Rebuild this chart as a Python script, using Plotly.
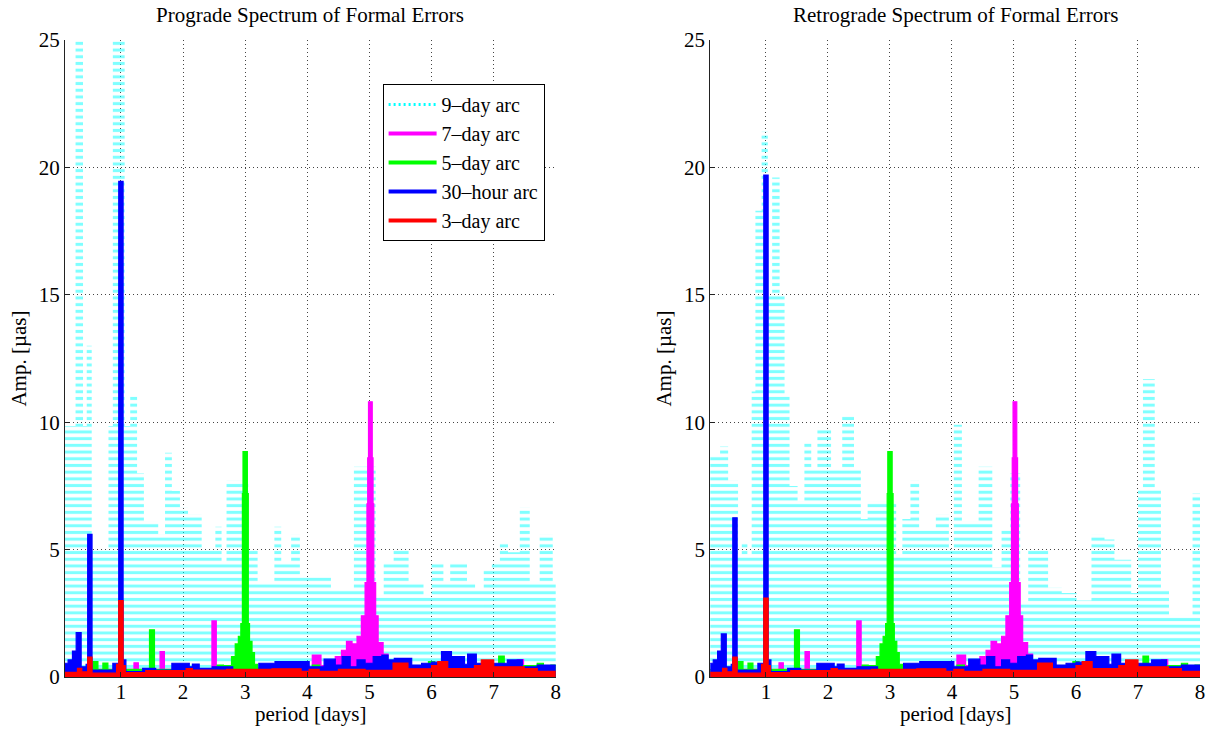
import plotly.graph_objects as go

# ---------------- data (period in days, amplitude in micro-arcsec) ----------------
# Shared low-level spectra (step segments: edges, amplitudes)
red_edges = [0.1, 0.3, 0.37, 0.465, 0.535, 0.93, 0.965, 1.035, 1.07, 1.4, 2.05, 2.15, 2.7, 3.43,
             3.9, 4.03, 4.19, 4.5, 4.93, 5.38, 5.62, 6.0, 6.1, 6.26, 6.69, 6.8, 7.0, 7.49, 7.7, 8.0]
red_pro = [0.18, 0.34, 0.2, 0.78, 0.15, 0.5, 3.0, 0.45, 0.17, 0.25, 0.33, 0.27, 0.3,
           0.32, 0.22, 0.3, 0.22, 0.3, 0.26, 0.55, 0.32, 0.45, 0.6, 0.33, 0.45, 0.67, 0.4, 0.33, 0.22]
red_retro = [0.18, 0.34, 0.2, 0.78, 0.15, 0.5, 3.1, 0.45, 0.17, 0.25, 0.33, 0.27, 0.3,
             0.32, 0.22, 0.3, 0.22, 0.3, 0.26, 0.55, 0.32, 0.45, 0.6, 0.33, 0.45, 0.67, 0.4, 0.33, 0.22]

blue_edges = [0.1, 0.15, 0.22, 0.28, 0.36, 0.44, 0.465, 0.535, 0.87, 0.965, 1.035, 1.08, 1.35, 1.56,
              1.82, 2.1, 2.15, 2.26, 2.47, 2.8, 3.22, 3.48, 4.03, 4.27, 4.45, 4.56, 4.69, 4.8, 4.93,
              5.06, 5.2, 5.3, 5.4, 5.68, 5.84, 6.0, 6.16, 6.32, 6.53, 6.58, 6.72, 7.22, 7.46, 7.7, 8.0]
blue_pro = [0.54, 0.67, 1.02, 1.74, 0.4, 0.5, 5.6, 0.27, 0.54, 19.45, 0.67, 0.21, 0.34,
            0.27, 0.54, 0.4, 0.51, 0.34, 0.4, 0.27, 0.54, 0.6, 0.4, 0.7, 0.47, 0.8, 0.4, 0.67,
            0.54, 0.8, 0.86, 0.67, 0.73, 0.47, 0.54, 0.58, 1.0, 0.8, 0.5, 0.9, 0.54, 0.67, 0.4, 0.47]
blue_retro = [0.54, 0.67, 1.02, 1.69, 0.4, 0.5, 6.25, 0.27, 0.54, 19.7, 0.67, 0.21, 0.34,
              0.27, 0.54, 0.4, 0.51, 0.34, 0.4, 0.27, 0.54, 0.6, 0.4, 0.7, 0.47, 0.8, 0.4, 0.67,
              0.54, 0.8, 0.86, 0.67, 0.73, 0.47, 0.54, 0.58, 1.0, 0.8, 0.5, 0.9, 0.54, 0.67, 0.4, 0.47]

green_edges = [0.1, 0.55, 0.63, 0.71, 0.79, 1.46, 1.54, 2.55, 2.65, 2.78, 2.84, 2.89, 2.93, 2.955,
               2.965, 3.035, 3.05, 3.07, 3.11, 3.15, 3.2, 4.08, 4.2, 5.95, 6.05, 6.12, 6.18, 6.85,
               6.95, 7.08, 7.17, 7.7, 7.8, 7.92, 8.0]
green_amp = [0.3, 0.6, 0.3, 0.55, 0.3, 1.85, 0.3, 0.47, 0.45, 0.8, 1.3, 1.6, 2.1, 7.2,
             8.85, 7.2, 2.1, 1.4, 0.96, 0.5, 0.35, 0.47, 0.35, 0.6, 0.4, 0.6, 0.4, 0.6,
             0.45, 0.82, 0.45, 0.54, 0.4, 0.47]

magenta_edges = [0.1, 1.21, 1.28, 1.63, 1.7, 2.465, 2.535, 4.08, 4.22, 4.45, 4.55, 4.63, 4.72, 4.8,
                 4.87, 4.93, 4.96, 4.972, 4.985, 5.045, 5.058, 5.07, 5.1, 5.14, 5.22, 5.3, 7.38,
                 7.48, 8.0]
magenta_amp = [0.3, 0.56, 0.3, 1.0, 0.3, 2.2, 0.35, 0.86, 0.45, 0.8, 1.05, 1.4, 1.3, 1.6,
               2.4, 3.7, 6.8, 8.6, 10.8, 8.6, 6.8, 3.7, 2.4, 1.35, 0.9, 0.4, 0.68, 0.4]

# 9-day arc envelopes (differ between the two panels)
cyan_pro_edges = [0.1, 0.27, 0.39, 0.45, 0.53, 0.8, 0.87, 1.06, 1.15, 1.26, 1.37, 1.6, 1.71, 1.82,
                  1.95, 2.08, 2.3, 2.52, 2.62, 2.7, 3.05, 3.2, 3.47, 3.58, 3.74, 3.88, 4.38, 4.75,
                  5.1, 5.23, 5.39, 5.63, 5.87, 6.0, 6.19, 6.3, 6.57, 6.7, 6.84, 6.97, 7.1, 7.23,
                  7.42, 7.58, 7.74, 7.95, 8.0]
cyan_pro = [9.85, 26, 9.85, 13.0, 5.0, 9.85, 26, 9.85, 11.1, 8.0, 6.1, 5.6, 8.8,
            7.3, 6.65, 6.4, 5.0, 5.9, 4.5, 7.7, 5.0, 3.7, 5.9, 4.5, 5.6, 4.0, 3.45,
            8.25, 3.2, 4.5, 5.05, 3.7, 3.2, 4.5, 3.7, 4.5, 3.7, 3.45, 4.2, 4.5, 5.3,
            4.9, 6.65, 3.7, 5.6, 3.7]

cyan_retro_edges = [0.1, 0.26, 0.39, 0.55, 0.61, 0.7, 0.77, 0.83, 0.93, 1.03, 1.1, 1.22, 1.3, 1.38,
                    1.51, 1.62, 1.73, 1.83, 2.05, 2.23, 2.42, 2.53, 2.64, 3.1, 3.2, 3.33, 3.47,
                    3.74, 3.95, 4.03, 4.16, 4.43, 4.65, 4.8, 4.94, 5.1, 5.23, 5.55, 5.77, 6.01,
                    6.25, 6.46, 6.62, 6.89, 7.0, 7.08, 7.27, 7.37, 7.5, 7.88, 8.0]
cyan_retro = [8.7, 9.05, 7.7, 4.8, 5.25, 4.8, 11.2, 18.3, 21.4, 15.0, 19.6, 15.0, 11.1,
              7.5, 6.9, 9.2, 8.2, 9.8, 8.2, 10.3, 8.2, 6.2, 6.9, 4.8, 6.2, 7.7,
              5.8, 6.4, 5.0, 9.9, 6.1, 8.25, 4.3, 5.8, 8.0, 2.9, 5.0, 3.5, 3.3,
              3.0, 5.6, 5.4, 4.6, 3.3, 7.4, 11.7, 7.4, 3.45, 2.4, 7.2]

series_names = ["9\u2013day arc", "7\u2013day arc", "5\u2013day arc", "30\u2013hour arc", "3\u2013day arc"]
series_colors = ["#00FFFF", "#FF00FF", "#00FF00", "#0000FF", "#FF0000"]
titles = ["Prograde Spectrum of Formal Errors", "Retrograde Spectrum of Formal Errors"]
x_label = "period [days]"
y_label = "Amp. [\u00b5as]"
x_ticks = [1, 2, 3, 4, 5, 6, 7, 8]
y_ticks = [0, 5, 10, 15, 20, 25]

FONT = "Liberation Serif, Times New Roman, serif"
FS = 21

panels = [
    dict(cyan=(cyan_pro_edges, cyan_pro), mag=(magenta_edges, magenta_amp),
         grn=(green_edges, green_amp), blu=(blue_edges, blue_pro), red=(red_edges, red_pro)),
    dict(cyan=(cyan_retro_edges, cyan_retro), mag=(magenta_edges, magenta_amp),
         grn=(green_edges, green_amp), blu=(blue_edges, blue_retro), red=(red_edges, red_retro)),
]

fig = go.Figure()


def step(edges, amps):
    return list(edges), list(amps) + [amps[-1]]


for i, p in enumerate(panels):
    xa = "x" if i == 0 else "x2"
    ya = "y" if i == 0 else "y2"
    ex, ey = step(*p["cyan"])
    fig.add_trace(go.Scatter(
        x=ex, y=ey, xaxis=xa, yaxis=ya, mode="lines", line=dict(width=0, shape="hv"),
        fill="tozeroy", fillcolor="rgba(0,0,0,0)",
        fillpattern=dict(shape="-", fgcolor=series_colors[0], bgcolor="rgba(0,0,0,0)",
                         size=6.7, solidity=0.45),
        showlegend=False, hoverinfo="skip"))
    for key, col in zip(["mag", "grn", "blu", "red"], series_colors[1:]):
        sx, sy = step(*p[key])
        fig.add_trace(go.Scatter(
            x=sx, y=sy, xaxis=xa, yaxis=ya, mode="lines",
            line=dict(width=1.2, color=col, shape="hv"),
            fill="tozeroy", fillcolor=col, showlegend=False, hoverinfo="skip"))

# legend entries
for k, (name, col) in enumerate(zip(series_names, series_colors)):
    fig.add_trace(go.Scatter(
        x=[None], y=[None], mode="lines", name=name, legendgroup=str(k),
        line=dict(color=col, width=4 if k else 3, dash="2px,3px" if k == 0 else "solid")))

axis_common = dict(
    showgrid=True, gridcolor="#444", griddash="1px,3px", gridwidth=1,
    showline=True, linecolor="#222", linewidth=1, mirror=False,
    ticks="inside", ticklen=5, tickcolor="#222", zeroline=False,
    tickfont=dict(family=FONT, size=FS, color="black"),
)

W, H = 1212, 729
ml, mr, mt, mb = 65, 7, 40, 52
pw = W - ml - mr
ph = H - mt - mb
d1 = [0, (558 - ml) / pw]
d2 = [(713 - ml) / pw, 1]

fig.update_layout(
    width=W, height=H,
    margin=dict(l=ml, r=mr, t=mt, b=mb),
    paper_bgcolor="white", plot_bgcolor="white",
    font=dict(family=FONT, size=FS, color="black"),
    xaxis=dict(domain=d1, range=[0.1, 8], tickvals=x_ticks, anchor="y", ticklabelstandoff=-4,
               **axis_common),
    yaxis=dict(range=[0, 25], tickvals=y_ticks, anchor="x",
               title=dict(text=y_label, standoff=6, font=dict(family=FONT, size=FS)),
               **axis_common),
    xaxis2=dict(domain=d2, range=[0.1, 8], tickvals=x_ticks, anchor="y2", ticklabelstandoff=-4,
                **axis_common),
    yaxis2=dict(range=[0, 25], tickvals=y_ticks, anchor="x2",
                title=dict(text=y_label, standoff=6, font=dict(family=FONT, size=FS)),
                **axis_common),
    legend=dict(x=(384 - ml) / pw, y=(H - mb - 84) / ph, xanchor="left", yanchor="top",
                bgcolor="white", bordercolor="black", borderwidth=1, itemwidth=48,
                font=dict(family=FONT, size=20), traceorder="grouped", tracegroupgap=0),
    showlegend=True,
)

for i, t in enumerate(titles):
    d = d1 if i == 0 else d2
    cx = (d[0] + d[1]) / 2
    fig.add_annotation(text=t, x=cx, xref="paper", y=1 + (mt - 15) / ph,
                       yref="paper", showarrow=False, yanchor="middle", xanchor="center",
                       font=dict(family=FONT, size=FS, color="black"))
    fig.add_annotation(text=x_label, x=cx, xref="paper", y=-(714 - (H - mb)) / ph,
                       yref="paper", showarrow=False, yanchor="middle", xanchor="center",
                       font=dict(family=FONT, size=FS, color="black"))

fig.write_html("out.html")
